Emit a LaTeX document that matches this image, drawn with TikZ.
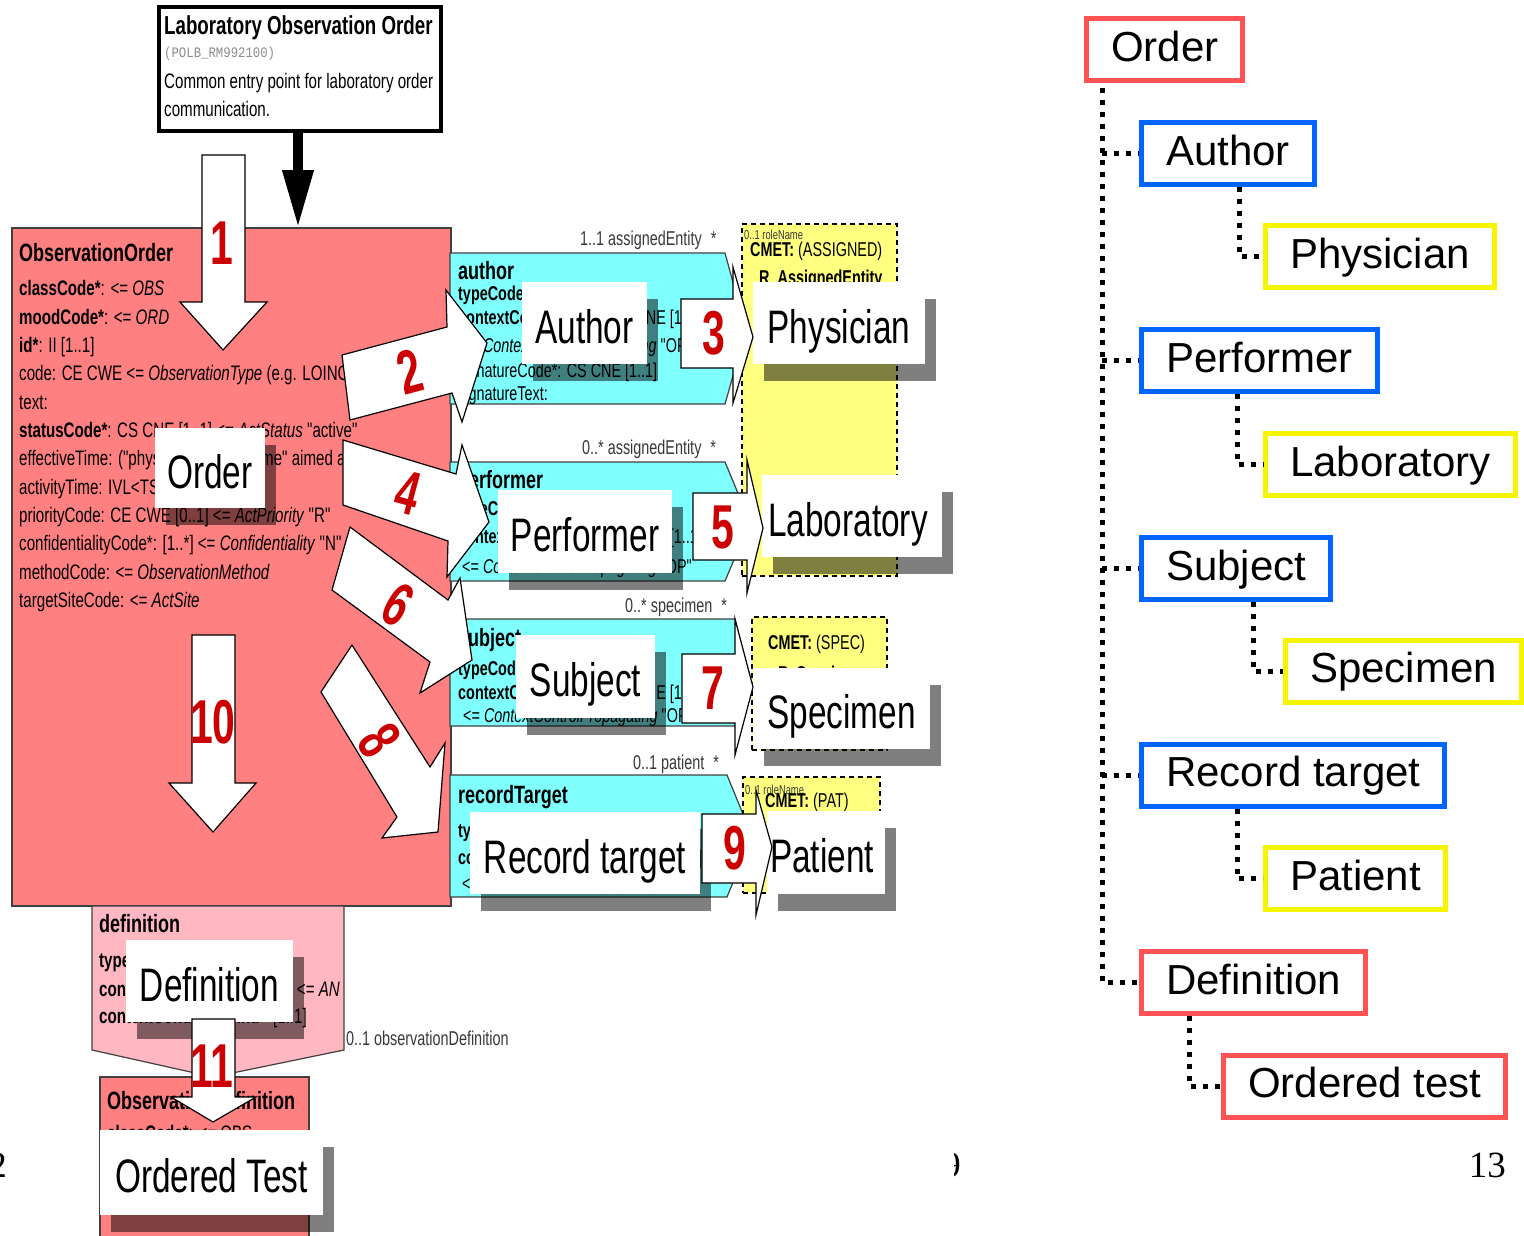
\documentclass[tikz,border=0pt]{standalone}
\usepackage{fontspec}
\usetikzlibrary{shadows,arrows.meta}
\newfontfamily\nar[FakeStretch=0.72]{Liberation Sans}
\newfontfamily\labf[FakeStretch=0.71]{Liberation Sans}
\newfontfamily\numf[FakeStretch=0.66]{Liberation Sans}
\newfontfamily\arialf{Liberation Sans}
\newfontfamily\monof[FakeStretch=0.85]{Liberation Mono}
\newfontfamily\tmsf{Liberation Serif}
\newcommand\fsz[1]{\fontsize{#1}{#1}\selectfont}
\definecolor{redfill}{HTML}{FF8080}
\definecolor{cyanfill}{HTML}{80FFFF}
\definecolor{yellowfill}{HTML}{FFFF80}
\definecolor{pinkfill}{HTML}{FFB8C2}
\definecolor{boxline}{HTML}{404040}
\definecolor{numred}{HTML}{CC0000}
\definecolor{assocgray}{HTML}{383838}
\definecolor{treered}{HTML}{FF5252}
\definecolor{treeblue}{HTML}{0064FF}
\definecolor{treeyellow}{HTML}{F5F500}
\tikzset{
  txt/.style={anchor=base west, inner sep=0, font=\nar\fsz{21}},
  ttl/.style={anchor=base west, inner sep=0, font=\nar\bfseries\fsz{25}},
  ctxt/.style={anchor=base west, inner sep=0, font=\nar\fsz{20}},
  assoc/.style={anchor=base west, inner sep=0, font=\nar\fsz{20}, text=assocgray},
  tiny/.style={anchor=base west, inner sep=0, font=\nar\fsz{13}, text=assocgray},
  lab/.style={fill=white, inner sep=0, font=\labf\fsz{47}, text height=40pt, text depth=0pt,
    drop shadow={shadow xshift=11pt, shadow yshift=-17pt, fill=black, opacity=0.5}},
  num/.style={inner sep=0, text=numred, font=\numf\bfseries\fsz{62}},
  warrow/.style={draw=black, fill=white, line width=1.2pt, line join=miter},
  cyanblk/.style={draw=boxline, fill=cyanfill, line width=1.2pt},
  cmet/.style={draw=black, dash pattern=on 5pt off 4pt, fill=yellowfill, line width=1.3pt, inner sep=0, outer sep=0},
  tree/.style={draw, line width=5pt, outer sep=2.5pt, inner xsep=24.5pt, inner ysep=0, minimum height=62pt,
    anchor=west, font=\arialf\fsz{42}, text height=35pt, text depth=12pt},
  dots/.style={line width=5pt, dash pattern=on 5pt off 7pt},
  pnum/.style={anchor=base east, inner sep=0, font=\tmsf\fsz{37}},
}
\begin{document}
\begin{tikzpicture}[x=1pt,y=-1pt]
\useasboundingbox (0,0) rectangle (1524,1235);
\fill[white] (0,0) rectangle (1524,1235);

% ---------- top box ----------
\node[draw, line width=4pt, outer sep=0, inner sep=0, minimum width=282pt, minimum height=124pt, fill=white] (lobox) at (300,69) {};
\node[anchor=base west, inner sep=0, font=\nar\bfseries\fsz{26}] (lotitle) at (164,34) {Laboratory Observation Order};
\node[anchor=base west, inner sep=0, font=\monof\fsz{14.5}, text=black!45] (loid) at (164,57) {(POLB\_RM992100)};
\node[txt] (lod1) at (164,88) {Common entry point for laboratory order};
\node[txt] (lod2) at (164,116) {communication.};

% ---------- ObservationOrder ----------
\node[draw=boxline, line width=1.2pt, fill=redfill, outer sep=0, inner sep=0, minimum width=439pt, minimum height=678pt, anchor=north west] (obsorder) at (12,228) {};
\draw[line width=10pt, -{Triangle[length=58pt,width=29pt]}] ([xshift=-2pt]lobox.south) -- ([xshift=66.5pt]obsorder.north);
\begin{scope}
\clip (12,228) rectangle (451,906);
\node[ttl] (oo0) at (19,261) {ObservationOrder};
\node[txt] (oo1) at (19,295.5) {\textbf{classCode*}: <= \textit{OBS}};
\node[txt] (oo2) at (19,324) {\textbf{moodCode*}: <= \textit{ORD}};
\node[txt] (oo3) at (19,352.5) {\textbf{id*}: II [1..1]};
\node[txt] (oo4) at (19,380.5) {code: CE CWE <= \textit{ObservationType} (e.g. LOINC)};
\node[txt] (oo5) at (19,409) {text:};
\node[txt] (oo6) at (19,437.5) {\textbf{statusCode*}: CS CNE [1..1] <= \textit{ActStatus} "active"};
\node[txt] (oo7) at (19,465.5) {effectiveTime: ("physician relevant time" aimed at)};
\node[txt] (oo8) at (19,494) {activityTime: IVL<TS> [0..1]};
\node[txt] (oo9) at (19,522.5) {priorityCode: CE CWE [0..1] <= \textit{ActPriority} "R"};
\node[txt] (oo10) at (19,550.5) {confidentialityCode*: [1..*] <= \textit{Confidentiality} "N"};
\node[txt] (oo11) at (19,579) {methodCode: <= \textit{ObservationMethod}};
\node[txt] (oo12) at (19,607.5) {targetSiteCode: <= \textit{ActSite}};
\end{scope}

% ---------- cyan participations ----------
\draw[cyanblk] (450,253) -- (725,253) -- (746,330) -- (725,404) -- (450,404) -- cycle;
\begin{scope}
\clip (450,253) -- (725,253) -- (746,330) -- (725,404) -- (450,404) -- cycle;
\node[ttl] (au0) at (458,279) {author};
\node[ctxt] (au1) at (458,300) {\textbf{typeCode*}: <= AUT};
\node[ctxt] (au2) at (458,324) {\textbf{contextControlCode*}: CS CNE [1..1]};
\node[ctxt] (au3) at (462,352) {<= \textit{ContextControlPropagating} "OP"};
\node[ctxt] (au4) at (458,377) {signatureCode*: CS CNE [1..1]};
\node[ctxt] (au5) at (458,400) {signatureText:};
\end{scope}

\draw[cyanblk] (450,462) -- (725,462) -- (750,522) -- (725,581) -- (450,581) -- cycle;
\begin{scope}
\clip (450,462) -- (725,462) -- (750,522) -- (725,581) -- (450,581) -- cycle;
\node[ttl] (pe0) at (458,488) {performer};
\node[ctxt] (pe1) at (458,515) {\textbf{typeCode*}: <= PRF};
\node[ctxt] (pe2) at (458,543) {\textbf{contextControlCode*}: CS CNE [1..1]};
\node[ctxt] (pe3) at (462,573) {<= \textit{ContextControlPropagating} "OP"};
\end{scope}

\draw[cyanblk] (450,619) -- (735,619) -- (748,675) -- (735,726) -- (450,726) -- cycle;
\begin{scope}
\clip (450,619) -- (735,619) -- (748,675) -- (735,726) -- (450,726) -- cycle;
\node[ttl] (su0) at (458,646) {subject};
\node[ctxt] (su1) at (458,675) {\textbf{typeCode*}: <= SBJ};
\node[ctxt] (su2) at (458,699) {\textbf{contextControlCode*}: CS CNE [1..1]};
\node[ctxt] (su3) at (463,722) {<= \textit{ContextControlPropagating} "OP"};
\end{scope}

\draw[cyanblk] (450,775) -- (727,775) -- (752,836) -- (727,897) -- (450,897) -- cycle;
\begin{scope}
\clip (450,775) -- (727,775) -- (752,836) -- (727,897) -- (450,897) -- cycle;
\node[ttl] (rt0) at (458,803) {recordTarget};
\node[ctxt] (rt1) at (458,837) {\textbf{typeCode*}: <= RCT};
\node[ctxt] (rt2) at (458,864) {\textbf{contextControlCode*}: CS CNE [1..1]};
\node[ctxt] (rt3) at (462,890) {<= \textit{ContextControlPropagating} "OP"};
\end{scope}

% ---------- association labels ----------
\node[assoc] (as1) at (580,245) {1..1 assignedEntity\hspace{9pt}*};
\node[assoc] (as2) at (582,454) {0..* assignedEntity\hspace{9pt}*};
\node[assoc] (as3) at (625,612) {0..* specimen\hspace{9pt}*};
\node[assoc] (as4) at (633,769) {0..1 patient\hspace{9pt}*};
\node[assoc] (as5) at (346,1045) {0..1 observationDefinition};

% ---------- CMET boxes ----------
\node[cmet, minimum width=155pt, minimum height=352pt, anchor=north west] (cmasg) at (742,224) {};
\node[tiny] (rn1) at (744,239) {0..1 roleName};
\node[anchor=base west, inner sep=0, font=\nar\fsz{20}] (cm1) at (750,256) {\textbf{CMET:} (ASSIGNED)};
\node[anchor=base west, inner sep=0, font=\nar\bfseries\fsz{20}] (cm2) at (759,284) {R\_AssignedEntity};
\node[cmet, minimum width=135pt, minimum height=133pt, anchor=north west] (cmspec) at (752,617) {};
\node[anchor=base west, inner sep=0, font=\nar\fsz{20}] (cm3) at (768,649) {\textbf{CMET:} (SPEC)};
\node[anchor=base west, inner sep=0, font=\nar\bfseries\fsz{20}] (cm4) at (778,680) {R\_Specimen};
\node[cmet, minimum width=137pt, minimum height=116pt, anchor=north west] (cmpat) at (743,777) {};
\node[tiny] (rn2) at (745,794) {0..1 roleName};
\node[anchor=base west, inner sep=0, font=\nar\fsz{20}] (cm5) at (765,807) {\textbf{CMET:} (PAT)};

% ---------- definition ----------
\draw[draw=boxline, fill=pinkfill, line width=1.2pt] (92,906) -- (344,906) -- (344,1050) -- (213,1077) -- (92,1050) -- cycle;
\begin{scope}
\clip (92,906) -- (344,906) -- (344,1050) -- (213,1077) -- (92,1050) -- cycle;
\node[ttl] (de0) at (99,932) {definition};
\node[txt] (de1) at (99,967) {\textbf{typeCode*}: <= INST};
\node[txt] (de2) at (99,996) {\textbf{contextControlCode*}:};
\node[txt, anchor=base east] (de2b) at (340,996) {<= \textit{AN}};
\node[txt] (de3) at (99,1023) {\textbf{contextConductionInd*}};
\node[txt, anchor=base east] (de3b) at (307,1023) {[1..1]};
\end{scope}
\node[draw=boxline, line width=1.2pt, fill=redfill, outer sep=0, inner sep=0, minimum width=209pt, minimum height=170pt, anchor=north west] (obsdef) at (100,1077) {};
\node[ttl] (od0) at (107,1109) {ObservationDefinition};
\node[txt] (od1) at (107,1140) {\textbf{classCode*}: <= OBS};

% ---------- white labels ----------
\node[lab, minimum width=110pt, minimum height=80pt] (lorder) at (210,468) {Order};
\node[lab, minimum width=125pt, minimum height=82pt] (lauthor) at (584.5,323) {Author};
\node[lab, minimum width=172pt, minimum height=82pt] (lphys) at (839,323) {Physician};
\node[lab, minimum width=174pt, minimum height=83pt] (lperf) at (585,531.5) {Performer};
\node[lab, minimum width=180pt, minimum height=82pt] (llab) at (852,516) {\hspace*{-8pt}Laboratory};
\node[lab, minimum width=139pt, minimum height=83pt] (lsubj) at (585.5,676.5) {Subject};
\node[lab, minimum width=177pt, minimum height=81pt] (lspec) at (841.5,708.5) {Specimen};
\node[lab, minimum width=230pt, minimum height=82pt] (lrec) at (585,853) {Record target};
\node[lab, minimum width=118pt, minimum height=83pt] (lpat) at (826,852.5) {\hspace*{-8pt}Patient};
\node[lab, minimum width=167pt, minimum height=82pt] (ldef) at (209.5,981) {Definition};
\node[lab, minimum width=223pt, minimum height=85pt] (lord) at (211.5,1172.5) {Ordered Test};

% ---------- white numbered arrows ----------
\draw[warrow] (202,155) -- (245,155) -- (245,302) -- (267,302) -- (223,350) -- (180,302) -- (202,302) -- cycle;
\draw[warrow] (342,355) -- (447,327) -- (446,290) -- (487,343) -- (462,422) -- (452,393) -- (350,420) -- cycle;
\draw[warrow] (681,299) -- (733,299) -- (733,267) -- (753,337) -- (733,403) -- (733,368) -- (681,368) -- cycle;
\draw[warrow] (343,440) -- (456,474) -- (462,445) -- (489,522) -- (447,577) -- (448,541) -- (343,505) -- cycle;
\draw[warrow] (693,493) -- (747,493) -- (747,460) -- (763,528) -- (747,593) -- (747,560) -- (693,560) -- cycle;
\draw[warrow] (350,527) -- (448,600) -- (460,578) -- (472,660) -- (420,693) -- (430,662) -- (332,590) -- cycle;
\draw[warrow] (682,654) -- (735,654) -- (735,619) -- (753,687) -- (735,755) -- (735,723) -- (682,723) -- cycle;
\draw[warrow] (352,645) -- (430,767) -- (445,743) -- (438,832) -- (382,838) -- (397,817) -- (321,692) -- cycle;
\draw[warrow] (702,814) -- (756,814) -- (756,790) -- (772,847) -- (756,915) -- (756,883) -- (702,883) -- cycle;
\draw[warrow] (192,635) -- (235,635) -- (235,783) -- (256,783) -- (213,832) -- (169,783) -- (192,783) -- cycle;
\draw[warrow] (192,1019) -- (235,1019) -- (235,1097) -- (256,1097) -- (213,1122) -- (171,1097) -- (192,1097) -- cycle;

\node[num] (n1) at (222,243) {1};
\node[num, rotate=15] (n2) at (410,372) {2};
\node[num] (n3) at (714,333) {3};
\node[num, rotate=-15] (n4) at (408,493) {4};
\node[num] (n5) at (723,527) {5};
\node[num, rotate=-30] (n6) at (398,605) {6};
\node[num] (n7) at (713,688) {7};
\node[num, rotate=-57] (n8) at (380,740) {8};
\node[num] (n9) at (735,848) {9};
\node[num] (n10) at (213,722) {10};
\node[num] (n11) at (212,1066) {11};

% ---------- right tree ----------
\node[tree, draw=treered] (torder) at (1084,49.5) {Order};
\node[tree, draw=treeblue] (tauthor) at (1139,153.5) {Author};
\node[tree, draw=treeyellow] (tphys) at (1263,256.5) {Physician};
\node[tree, draw=treeblue] (tperf) at (1139,360.5) {Performer};
\node[tree, draw=treeyellow] (tlab) at (1263,464.5) {Laboratory};
\node[tree, draw=treeblue] (tsubj) at (1139,568.5) {Subject};
\node[tree, draw=treeyellow] (tspec) at (1283,671) {Specimen};
\node[tree, draw=treeblue] (trec) at (1139,775) {Record target};
\node[tree, draw=treeyellow] (tpat) at (1263,878.5) {Patient};
\node[tree, draw=treered] (tdef) at (1139,982.5) {Definition};
\node[tree, draw=treered] (tord) at (1221,1086) {Ordered test};

\coordinate (trunk) at (1102,88);
\draw[dots] (trunk) |- (tdef.west);
\draw[dots] (trunk |- tauthor.west) -- (tauthor.west);
\draw[dots] (trunk |- tperf.west) -- (tperf.west);
\draw[dots] (trunk |- tsubj.west) -- (tsubj.west);
\draw[dots] (trunk |- trec.west) -- (trec.west);
\draw[dots] ([xshift=100pt]tauthor.south west) |- (tphys.west);
\draw[dots] ([xshift=98pt]tperf.south west) |- (tlab.west);
\draw[dots] ([xshift=114pt]tsubj.south west) |- (tspec.west);
\draw[dots] ([xshift=98pt]trec.south west) |- (tpat.west);
\draw[dots] ([xshift=50pt]tdef.south west) |- (tord.west);

% ---------- page numbers ----------
\node[pnum] (pg2) at (7,1177) {2};
\begin{scope}
\clip (954,1140) rectangle (966,1190);
\node[pnum] (pg9) at (961,1177) {9};
\end{scope}
\node[pnum] (pg13) at (1506,1177) {13};
\end{tikzpicture}
\end{document}
